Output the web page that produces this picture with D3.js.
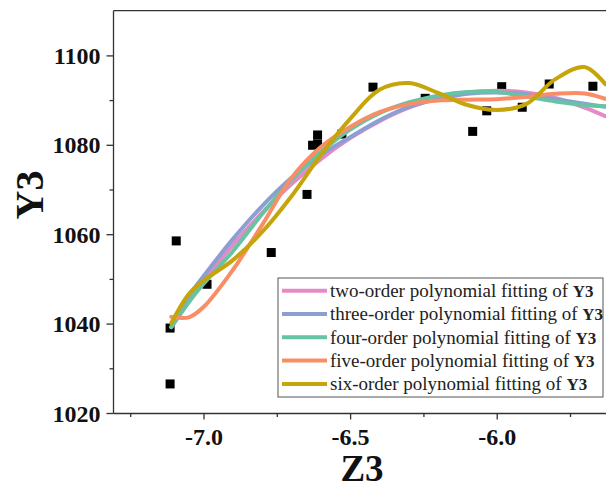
<!DOCTYPE html>
<html>
<head>
<meta charset="utf-8">
<script src="https://cdn.jsdelivr.net/npm/d3@7"></script>
<style>
  body { margin: 0; background: #fff; }
  svg { display: block; }
  text { font-family: "Liberation Serif", "Times New Roman", serif; }
</style>
</head>
<body>
<div id="chart"></div>
<script>
// scatter data
const pointZ = [-7.114, -7.114, -7.093, -6.988, -6.769, -6.647, -6.628, -6.611, -6.611, -6.528,
                -6.422, -6.244, -6.082, -6.034, -5.983, -5.913, -5.821, -5.672];
const pointY = [1026.5, 1039.0, 1058.5, 1048.8, 1055.9, 1068.9, 1079.9, 1082.2, 1080.2, 1082.4,
                1092.9, 1090.4, 1083.0, 1087.6, 1093.0, 1088.4, 1093.6, 1093.1];

// fitted curves sampled at these Z positions
const curveZ = [-7.11, -7.05, -7.0, -6.9, -6.8, -6.7, -6.6, -6.5, -6.4, -6.3, -6.2, -6.1, -6.0, -5.9, -5.8, -5.7, -5.63];
const fit2 = [1039.2, 1044.9, 1049.5, 1057.6, 1064.8, 1071.2, 1076.8, 1081.5, 1085.3, 1088.3, 1090.4, 1091.7, 1092.1, 1091.7, 1090.5, 1088.3, 1086.4];
const fit3 = [1039.2, 1046.2, 1050.6, 1058.9, 1066.3, 1072.6, 1077.7, 1081.7, 1085.5, 1088.5, 1090.2, 1091.4, 1091.7, 1091.3, 1090.2, 1089.2, 1088.5];
const fit4 = [1039.2, 1044.8, 1048.9, 1056.2, 1064.5, 1072.1, 1078.4, 1083.4, 1087.1, 1089.5, 1091.0, 1091.8, 1091.8, 1090.8, 1089.7, 1088.9, 1088.6];
const fit5 = [1041.5, 1041.4, 1043.7, 1052.0, 1062.1, 1072.6, 1079.5, 1084.0, 1087.3, 1089.1, 1089.9, 1090.1, 1090.2, 1090.7, 1091.4, 1091.5, 1090.3];
const fit6 = [1040.1, 1046.6, 1049.6, 1054.2, 1060.5, 1068.5, 1077.7, 1085.8, 1092.3, 1093.8, 1091.6, 1088.9, 1087.8, 1089.1, 1094.7, 1097.4, 1093.6];

const seriesNames = ["two-order", "three-order", "four-order", "five-order", "six-order"];
const seriesColors = ["#e48bc6", "#8c9fd2", "#66c3a3", "#f98d66", "#c6a50a"];
const seriesFits = [fit2, fit3, fit4, fit5, fit6];

const xMajor = [-7.0, -6.5, -6.0];
const xMinor = [-7.25, -6.75, -6.25, -5.75];
const yMajor = [1020, 1040, 1060, 1080, 1100];
const yMinor = [1030, 1050, 1070, 1090];

const width = 606, height = 488;
const margin = {left: 113.5, top: 10.7, bottom: 413.5};

const svg = d3.select('#chart').append('svg').attr('width', width).attr('height', height);

const x = d3.scaleLinear().domain([-7.307, -5.6]).range([margin.left, 614]);
const y = d3.scaleLinear().domain([1020, 1110]).range([413, margin.top]);

// axes
const xAxis = svg.append('g').attr('transform', `translate(0, ${margin.bottom})`)
    .call(d3.axisBottom(x).tickValues(xMajor).tickSize(6).tickSizeOuter(0));
svg.append('g').attr('transform', `translate(0, ${margin.bottom})`)
    .call(d3.axisBottom(x).tickValues(xMinor).tickSize(3.5).tickSizeOuter(0).tickFormat(''))
    .select('.domain').remove();
xAxis.select('.domain').attr('d', `M${margin.left},0H${width}`);
xAxis.selectAll('text').attr('dy', null).attr('y', 31)
    .text(d => d.toFixed(1));

const yAxis = svg.append('g').attr('transform', `translate(${margin.left}, 0)`)
    .call(d3.axisLeft(y).tickValues(yMajor).tickSize(7).tickSizeOuter(0).tickFormat(d3.format('d')));
svg.append('g').attr('transform', `translate(${margin.left}, 0)`)
    .call(d3.axisLeft(y).tickValues(yMinor).tickSize(4).tickSizeOuter(0).tickFormat(''))
    .select('.domain').remove();
yAxis.select('.domain').attr('d', `M0,${margin.top}V${margin.bottom}`);
yAxis.selectAll('text').attr('x', -13).attr('dy', '0.34em');

svg.selectAll('.tick text')
    .attr('font-family', '"Liberation Serif", serif')
    .attr('font-size', 24).attr('font-weight', 'bold').attr('fill', '#111');
svg.selectAll('.domain, .tick line').attr('stroke', '#333').attr('stroke-width', 1.3);

// top frame line
svg.append('line')
    .attr('x1', margin.left).attr('x2', width)
    .attr('y1', margin.top).attr('y2', margin.top)
    .attr('stroke', '#333').attr('stroke-width', 1.3);

// points (curves are drawn on top of them)
svg.append('g').selectAll('rect')
    .data(pointZ.map((z, i) => [z, pointY[i]]))
    .enter()
    .append('rect')
    .attr('x', d => x(d[0]) - 4.5)
    .attr('y', d => y(d[1]) - 4.5)
    .attr('width', 9).attr('height', 9)
    .attr('fill', '#000');

const line = d3.line()
    .x(d => x(d[0]))
    .y(d => y(d[1]))
    .curve(d3.curveCatmullRom.alpha(0.5));

svg.append('clipPath').attr('id', 'plot-clip')
    .append('rect').attr('x', margin.left).attr('y', margin.top)
    .attr('width', width - margin.left).attr('height', margin.bottom - margin.top);

svg.append('g').attr('clip-path', 'url(#plot-clip)')
    .selectAll('path')
    .data(seriesFits)
    .enter()
    .append('path')
    .attr('d', fit => line(curveZ.map((z, i) => [z, fit[i]])))
    .attr('fill', 'none')
    .attr('stroke', (d, i) => seriesColors[i])
    .attr('stroke-width', 4)
    .attr('stroke-linecap', 'round');

// legend
const legend = svg.append('g').attr('transform', 'translate(278, 278)');
legend.append('rect')
    .attr('x', 0).attr('y', 0).attr('width', 325).attr('height', 119)
    .attr('fill', '#fff').attr('stroke', '#555').attr('stroke-width', 1);

const rows = legend.selectAll('.row')
    .data(seriesNames)
    .enter()
    .append('g')
    .attr('class', 'row')
    .attr('transform', (d, i) => `translate(0, ${12.7 + i * 23.3})`);
rows.append('line')
    .attr('x1', 4).attr('x2', 49)
    .attr('stroke', (d, i) => seriesColors[i]).attr('stroke-width', 4);
const legendText = rows.append('text')
    .attr('x', 52).attr('dy', '0.33em')
    .attr('font-size', 19).attr('fill', '#222');
legendText.append('tspan').text(d => `${d} polynomial fitting of `);
legendText.append('tspan').attr('font-weight', 'bold').attr('font-size', 17).text('Y3');

// axis titles
svg.append('text')
    .attr('transform', 'translate(43, 195) rotate(-90)')
    .attr('text-anchor', 'middle')
    .attr('font-size', 40).attr('font-weight', 'bold').attr('fill', '#111')
    .text('Y3');
svg.append('text')
    .attr('x', 362).attr('y', 481)
    .attr('text-anchor', 'middle')
    .attr('font-size', 37).attr('font-weight', 'bold').attr('fill', '#111')
    .text('Z3');
</script>
</body>
</html>
